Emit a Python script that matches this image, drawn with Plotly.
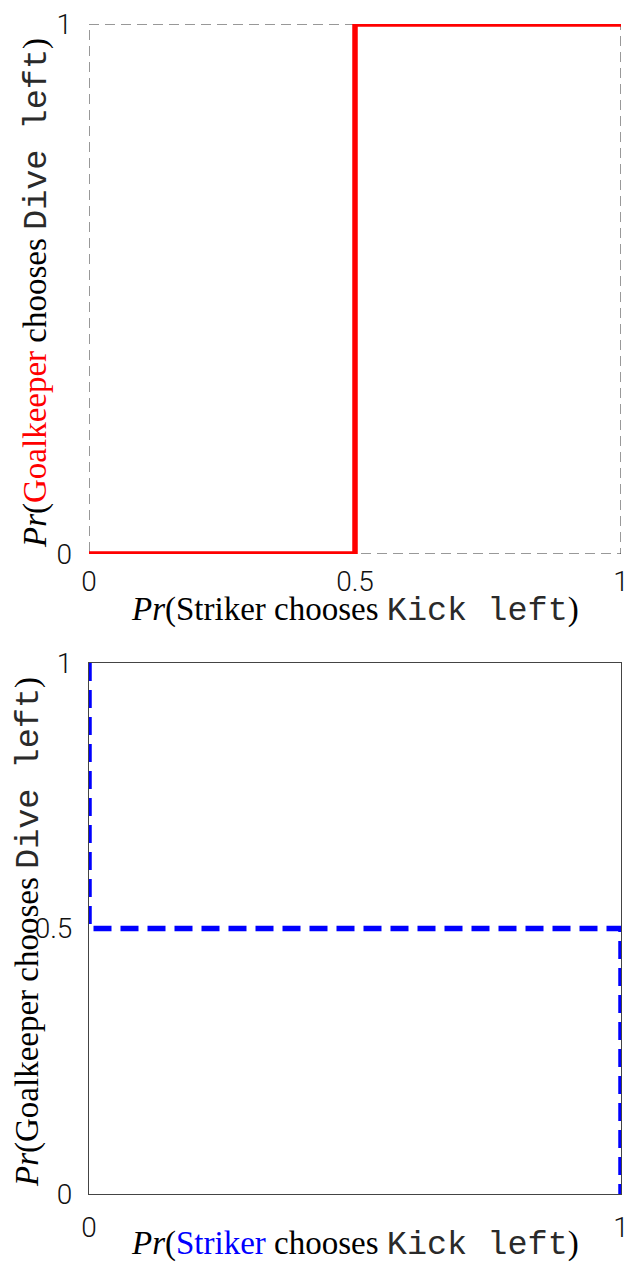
import plotly.graph_objects as go

# Best-response step functions
gk_x = [0, 0.5, 0.5, 1]
gk_y = [0, 0, 1, 1]
st_x = [0, 0, 1, 1]
st_y = [1, 0.5, 0.5, 0]

top_xticks = [0, 0.5, 1]
top_yticks = [0, 1]
bot_xticks = [0, 1]
bot_yticks = [0, 0.5, 1]

W, H = 624, 1264
x_dom = [89 / W, 621 / W]
top_dom = [1 - 554 / H, 1 - 24 / H]
bot_dom = [1 - 1194 / H, 1 - 663 / H]

TICK_FONT = dict(family="Roboto", size=28, color="#111", weight=300)
SERIF = "Liberation Serif"
MONO = "Liberation Mono"

fig = go.Figure()

fig.add_trace(go.Scatter(x=gk_x, y=gk_y, mode="lines", xaxis="x", yaxis="y",
                         line=dict(color="#ff0000", width=5.5),
                         cliponaxis=False, showlegend=False))
fig.add_trace(go.Scatter(x=st_x, y=st_y, mode="lines", xaxis="x2", yaxis="y2",
                         line=dict(color="#0000ff", width=5.5, dash="18px,9px"),
                         cliponaxis=False, showlegend=False))

ax_common = dict(range=[0, 1], showgrid=False, zeroline=False, ticks="",
                 tickfont=TICK_FONT, fixedrange=True, automargin=False,
                 ticklabeloverflow="allow")

fig.update_layout(
    width=W, height=H,
    margin=dict(l=0, r=0, t=0, b=0),
    paper_bgcolor="white", plot_bgcolor="white",
    xaxis=dict(domain=x_dom, anchor="y", tickvals=top_xticks,
               ticktext=[str(v) for v in top_xticks], showline=False,
               ticklabelstandoff=8, **ax_common),
    yaxis=dict(domain=top_dom, anchor="x", tickvals=top_yticks,
               ticktext=[str(v) for v in top_yticks], showline=False,
               ticklabelstandoff=16, **ax_common),
    xaxis2=dict(domain=x_dom, anchor="y2", tickvals=bot_xticks,
                ticktext=[str(v) for v in bot_xticks], showline=True,
                mirror=True, linecolor="#444", linewidth=1,
                ticklabelstandoff=8, **ax_common),
    yaxis2=dict(domain=bot_dom, anchor="x2", tickvals=bot_yticks,
                ticktext=[str(v) for v in bot_yticks], showline=True,
                mirror=True, linecolor="#444", linewidth=1,
                ticklabelstandoff=10, **ax_common),
)

# Dashed frame of the upper panel
fig.add_shape(type="rect", xref="x", yref="y", x0=0, x1=1, y0=0, y1=1,
              line=dict(color="#333", width=1, dash="10px,6px"), layer="below")


def mono(txt):
    return (f"<span style=\"font-family:'{MONO}';font-size:33.5px;"
            f"color:#2a2a2a\">{txt}</span>")


def xlabel(colour):
    return (f"<i>Pr</i>(<span style='color:{colour}'>Striker</span> chooses "
            f"{mono('Kick left')})")


def ylabel(colour):
    return (f"<i>Pr</i>(<span style='color:{colour}'>Goalkeeper</span> chooses "
            f"{mono('Dive left')})")


title_font = dict(family=SERIF, size=33, color="black")

fig.add_annotation(text=xlabel("black"), xref="paper", yref="paper",
                   x=355 / W, y=1 - 610 / H, showarrow=False,
                   xanchor="center", yanchor="middle", font=title_font)
fig.add_annotation(text=xlabel("#0000ff"), xref="paper", yref="paper",
                   x=355 / W, y=1 - 1244 / H, showarrow=False,
                   xanchor="center", yanchor="middle", font=title_font)
fig.add_annotation(text=ylabel("#ff0000"), xref="paper", yref="paper",
                   x=36 / W, y=1 - 293 / H, showarrow=False, textangle=-90,
                   xanchor="center", yanchor="middle", font=title_font)
fig.add_annotation(text=ylabel("black"), xref="paper", yref="paper",
                   x=28 / W, y=1 - 932 / H, showarrow=False, textangle=-90,
                   xanchor="center", yanchor="middle", font=title_font)

fig.write_html("out.html")
